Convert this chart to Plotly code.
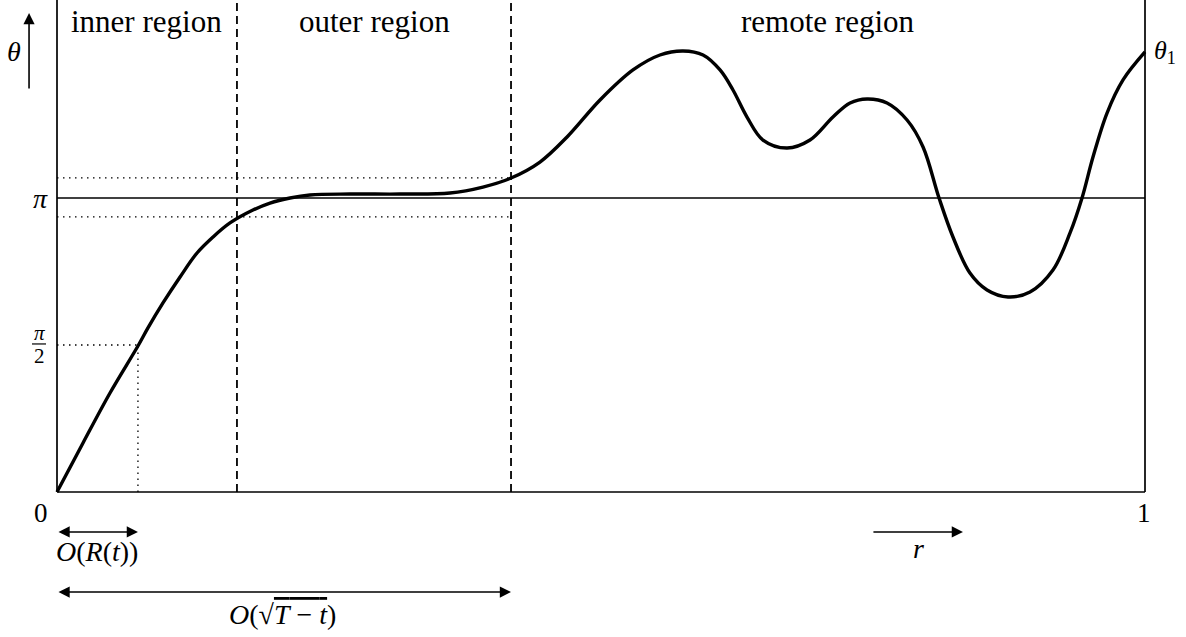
import plotly.graph_objects as go
import math

# ---- data ----
r_vals = [0.0000, 0.0239, 0.0487, 0.0744, 0.0836, 0.0974, 0.1131, 0.1287, 0.1434, 0.1590,
          0.1801, 0.1958, 0.2142, 0.2325, 0.2693, 0.3153, 0.3612, 0.3915, 0.4173, 0.4439,
          0.4688, 0.4991, 0.5294, 0.5542, 0.5754, 0.5938, 0.6094, 0.6213, 0.6342, 0.6489,
          0.6710, 0.6921, 0.7132, 0.7289, 0.7445, 0.7629, 0.7813, 0.7960, 0.8107, 0.8235,
          0.8391, 0.8548, 0.8741, 0.8943, 0.9154, 0.9311, 0.9421, 0.9522, 0.9651, 0.9798,
          1.0000]
theta_vals = [0.000, 0.524, 1.058, 1.560, 1.753, 2.020, 2.298, 2.554, 2.725, 2.875,
              3.013, 3.088, 3.142, 3.174, 3.184, 3.184, 3.195, 3.259, 3.355, 3.526,
              3.794, 4.189, 4.510, 4.670, 4.713, 4.670, 4.510, 4.296, 4.007, 3.761,
              3.676, 3.761, 4.007, 4.157, 4.200, 4.157, 3.975, 3.687, 3.142, 2.725,
              2.340, 2.159, 2.084, 2.137, 2.372, 2.768, 3.142, 3.580, 4.050, 4.403,
              4.702]

region_bounds = [0.1654, 0.4173]          # dashed separators
inner_scale_r = 0.0744                    # O(R(t)) marker, where theta = pi/2
band_levels = [2.939, 3.356]              # pi -/+ epsilon dotted lines
region_labels = ["inner region", "outer region", "remote region"]
region_label_x = [0.0827, 0.2918, 0.7082]

PI = math.pi
Y_TOP = 5.2576
X_MIN, X_MAX = -0.05239, 1.03768
Y_MIN = -1.5495

FONT = "Liberation Serif"
BLACK = "#000000"
DOT = "1.5px,4.5px"

fig = go.Figure()

shapes = []
def seg(x0, y0, x1, y1, width=1.6, dash="solid"):
    shapes.append(dict(type="line", xref="x", yref="y", x0=x0, y0=y0, x1=x1, y1=y1,
                       line=dict(color=BLACK, width=width, dash=dash)))

# frame axes
seg(0, 0, 0, Y_TOP, 1.7)
seg(0, 0, 1, 0, 1.7)
seg(1, 0, 1, Y_TOP, 1.7)
# pi line
seg(0, PI, 1, PI, 1.4)
# dashed region boundaries
for b in region_bounds:
    seg(b, 0, b, Y_TOP, 1.8, "8px,5px")
# dotted band lines
for lv in band_levels:
    seg(0, lv, region_bounds[1], lv, 1.3, DOT)
# pi/2 dotted guides
seg(0, PI / 2, inner_scale_r, PI / 2, 1.3, DOT)
seg(inner_scale_r, 0, inner_scale_r, PI / 2, 1.3, DOT)
# fraction bar of pi/2
seg(-0.0230, 1.582, -0.0101, 1.582, 1.2)

fig.add_trace(go.Scatter(x=r_vals, y=theta_vals, mode="lines",
                         line=dict(color=BLACK, width=3.4, shape="spline", smoothing=1.0),
                         hoverinfo="skip", showlegend=False))

ann = []
def text(x, y, s, size, xanchor="center", yanchor="middle"):
    ann.append(dict(x=x, y=y, xref="x", yref="y", text=s, showarrow=False,
                    font=dict(family=FONT, size=size, color=BLACK),
                    xanchor=xanchor, yanchor=yanchor))

def arrow(x0, y0, x1, y1, both=False):
    d = dict(x=x1, y=y1, ax=x0, ay=y0, xref="x", yref="y", axref="x", ayref="y",
             text="", showarrow=True, arrowhead=2, arrowsize=1.4, arrowwidth=1.6,
             arrowcolor=BLACK, standoff=0, startstandoff=0)
    if both:
        d.update(arrowside="end+start", startarrowhead=2, startarrowsize=1.4)
    ann.append(d)

for lab, lx in zip(region_labels, region_label_x):
    text(lx, 5.025, lab, 31)

text(-0.0395, 4.702, "<i>θ</i>", 28)
arrow(-0.0257, 4.296, -0.0257, 5.119)
text(-0.0156, PI, "<i>π</i>", 28)
text(-0.0165, 1.70, "<i>π</i>", 21)
text(-0.0165, 1.45, "2", 21)
text(-0.0147, -0.224, "0", 27)
text(0.9991, -0.224, "1", 27)
text(1.0062, 4.702, "<i>θ</i><sub>1</sub>", 26, xanchor="left")

arrow(0, -0.427, inner_scale_r, -0.427, both=True)
text(0.0368, -0.641, "<i>O</i>(<i>R</i>(<i>t</i>))", 28)
arrow(0, -1.069, region_bounds[1], -1.069, both=True)
text(0.2077, -1.304,
     "<i>O</i>(√<span style=\"text-decoration:overline\"><i>T</i> − <i>t</i></span>)", 28)
arrow(0.749, -0.427, 0.8327, -0.427)
text(0.7914, -0.600, "<i>r</i>", 28)

fig.update_layout(
    width=1186, height=637, autosize=False,
    margin=dict(l=0, r=0, t=0, b=0),
    paper_bgcolor="white", plot_bgcolor="white",
    shapes=shapes, annotations=ann,
    xaxis=dict(range=[X_MIN, X_MAX], visible=False, fixedrange=True),
    yaxis=dict(range=[Y_MIN, Y_TOP], visible=False, fixedrange=True),
    showlegend=False,
)

fig.write_html("out.html",
               config={"displayModeBar": False, "staticPlot": True},
               post_script="document.body.style.margin='0';document.body.style.padding='0';"
                           "document.body.style.overflow='hidden';")
